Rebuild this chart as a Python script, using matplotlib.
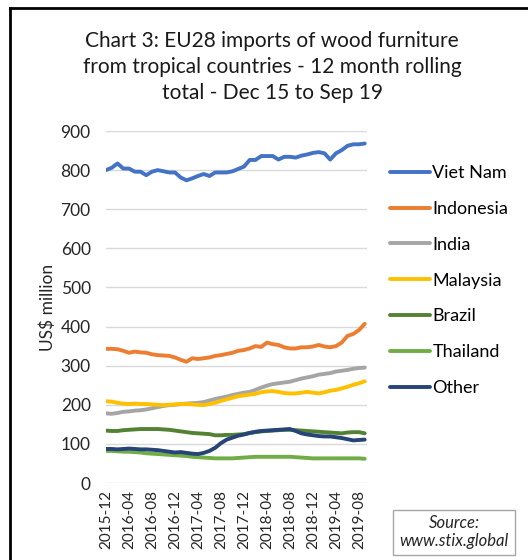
import numpy as np
import pandas as pd
from matplotlib import pyplot as plt
from matplotlib.lines import Line2D
from matplotlib.patches import Rectangle

plt.rcParams['font.family'] = ['Lato', 'DejaVu Sans']

# monthly 12-month rolling totals, US$ million, Dec 2015 .. Sep 2019
months = [str(p) for p in pd.period_range('2015-12', '2019-09', freq='M')]

viet_nam = [800, 806, 817, 804, 804, 796, 796, 787, 796, 800, 797, 794, 794, 781, 774, 779,
            785, 790, 785, 794, 794, 794, 797, 803, 809, 826, 826, 836, 836, 836, 827, 834,
            834, 832, 837, 840, 844, 846, 843, 827, 843, 851, 862, 866, 866, 868]
indonesia = [343, 343, 342, 338, 333, 336, 334, 333, 329, 327, 326, 325, 321, 315, 310, 319,
             317, 319, 321, 325, 327, 330, 333, 338, 340, 344, 350, 348, 359, 355, 353, 347,
             344, 344, 347, 347, 349, 353, 349, 347, 350, 359, 376, 381, 391, 407]
india = [178, 177, 179, 182, 183, 185, 186, 188, 191, 194, 197, 199, 200, 202, 203, 204,
         205, 207, 211, 215, 218, 221, 225, 228, 231, 233, 238, 244, 249, 253, 255, 257,
         259, 263, 267, 270, 273, 277, 279, 281, 285, 287, 289, 292, 294, 295]
malaysia = [209, 208, 205, 203, 202, 203, 202, 202, 201, 200, 199, 200, 201, 202, 202, 201,
            200, 199, 202, 205, 210, 214, 218, 222, 224, 226, 228, 232, 234, 235, 233, 230,
            229, 229, 231, 233, 231, 229, 232, 236, 238, 242, 246, 251, 255, 260]
brazil = [134, 133, 133, 135, 136, 137, 138, 138, 138, 138, 137, 136, 134, 132, 130, 128,
          127, 126, 125, 122, 122, 123, 123, 124, 125, 128, 130, 132, 133, 134, 135, 136,
          136, 135, 134, 133, 132, 131, 130, 129, 128, 127, 129, 130, 130, 127]
thailand = [82, 82, 81, 80, 80, 79, 78, 76, 75, 74, 73, 72, 71, 70, 69, 67,
            66, 65, 64, 63, 63, 63, 63, 64, 65, 66, 67, 67, 67, 67, 67, 67,
            67, 66, 65, 64, 63, 63, 63, 63, 63, 63, 63, 63, 63, 62]
other = [87, 87, 86, 87, 88, 87, 86, 86, 85, 84, 82, 80, 78, 79, 77, 75,
         74, 77, 82, 90, 102, 111, 116, 121, 124, 128, 131, 133, 134, 135, 136, 137,
         138, 133, 127, 124, 122, 120, 119, 119, 117, 115, 112, 109, 110, 111]

series = [
    ('Viet Nam', viet_nam, '#4472C4'),
    ('Indonesia', indonesia, '#ED7D31'),
    ('India', india, '#A5A5A5'),
    ('Malaysia', malaysia, '#FFC000'),
    ('Brazil', brazil, '#548235'),
    ('Thailand', thailand, '#70AD47'),
    ('Other', other, '#264478'),
]

fig = plt.figure(figsize=(5.28, 5.60), dpi=100)
ax = fig.add_axes([106 / 528, 77 / 560, 261 / 528, 352 / 560])

x = np.arange(len(months))
for name, vals, col in series:
    ax.plot(x, vals, color=col, lw=2.8, label=name, solid_capstyle='round')

ax.set_ylim(0, 900)
ax.set_yticks(range(0, 901, 100))
ax.set_xlim(0, len(months) - 0.6)
ax.set_xticks(x[::4])
ax.set_xticklabels(months[::4], rotation=90, fontsize=11, color='#262626')
ax.tick_params(axis='y', labelsize=12.5, labelcolor='#262626', length=0, pad=11)
ax.tick_params(axis='x', length=0, pad=5)
ax.grid(axis='y', color='#D9D9D9', lw=1)
ax.set_axisbelow(True)
for s in ax.spines.values():
    s.set_visible(False)
ax.set_ylabel('US$ million', fontsize=12.5, color='#262626', labelpad=3)

ax.legend(loc='upper left', bbox_to_anchor=(390 / 528, 1 - 165 / 560), bbox_transform=fig.transFigure,
          frameon=False, fontsize=13, handlelength=2.2, handletextpad=0.15,
          labelspacing=1.1, borderaxespad=0, borderpad=0)

fig.text(272 / 528, 1 - 67 / 560,
         'Chart 3: EU28 imports of wood furniture\nfrom tropical countries - 12 month rolling\ntotal - Dec 15 to Sep 19',
         ha='center', va='center', fontsize=15, color='#1a1a1a', linespacing=1.4)

# source box
fig.patches.append(Rectangle((393 / 528, 5 / 560), 122 / 528, 45 / 560, transform=fig.transFigure,
                             fill=False, ec='#A6A6A6', lw=1))
fig.text(454 / 528, 1 - 532 / 560, 'Source:\nwww.stix.global', ha='center', va='center',
         fontsize=12, style='italic', color='#262626', linespacing=1.2)

# outer frame, only the left and top edges fall inside the image
fig.add_artist(Line2D([10 / 528, 10 / 528], [-0.05, 1 - 8 / 560], transform=fig.transFigure,
                      color='black', lw=2))
fig.add_artist(Line2D([10 / 528, 1.05], [1 - 8 / 560, 1 - 8 / 560], transform=fig.transFigure,
                      color='black', lw=2))

fig.savefig('out.png', dpi=100)
